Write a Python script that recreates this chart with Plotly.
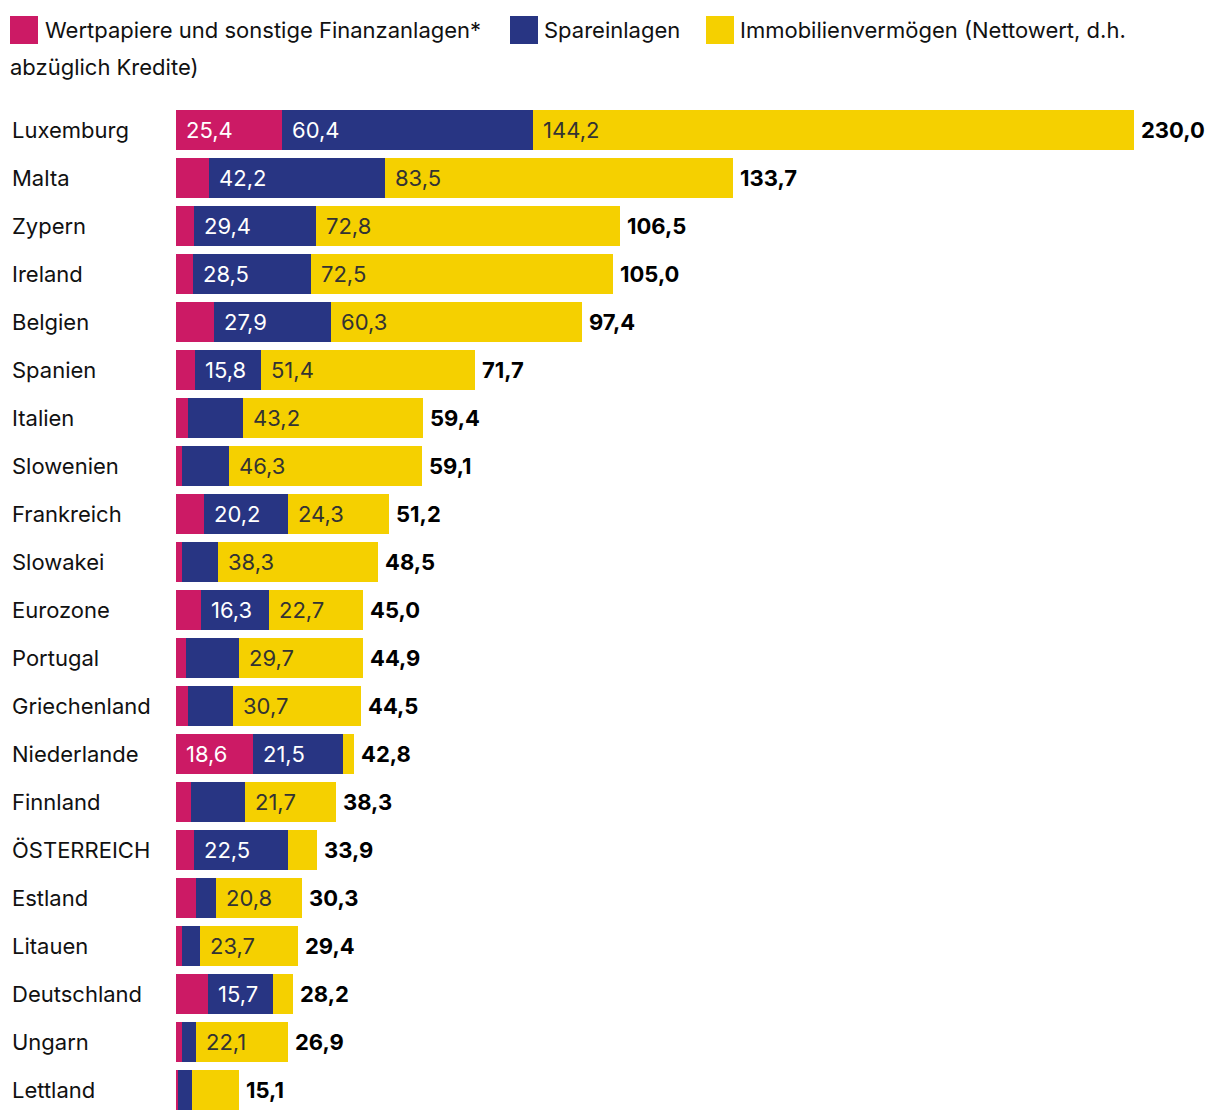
import plotly.graph_objects as go

countries = ["Luxemburg", "Malta", "Zypern", "Ireland", "Belgien", "Spanien", "Italien",
             "Slowenien", "Frankreich", "Slowakei", "Eurozone", "Portugal", "Griechenland",
             "Niederlande", "Finnland", "ÖSTERREICH", "Estland", "Litauen", "Deutschland",
             "Ungarn", "Lettland"]
securities = [25.4, 8.0, 4.3, 4.0, 9.2, 4.5, 2.9, 1.4, 6.7, 1.5, 6.0, 2.3, 2.9, 18.6, 3.7,
              4.3, 4.8, 1.4, 7.7, 1.4, 0.5]
savings = [60.4, 42.2, 29.4, 28.5, 27.9, 15.8, 13.3, 11.4, 20.2, 8.7, 16.3, 12.9, 10.9, 21.5,
           12.9, 22.5, 4.7, 4.3, 15.7, 3.4, 3.3]
realestate = [144.2, 83.5, 72.8, 72.5, 60.3, 51.4, 43.2, 46.3, 24.3, 38.3, 22.7, 29.7, 30.7,
              2.7, 21.7, 7.1, 20.8, 23.7, 4.8, 22.1, 11.3]
totals = [230.0, 133.7, 106.5, 105.0, 97.4, 71.7, 59.4, 59.1, 51.2, 48.5, 45.0, 44.9, 44.5,
          42.8, 38.3, 33.9, 30.3, 29.4, 28.2, 26.9, 15.1]

series_names = ["Wertpapiere und sonstige Finanzanlagen*", "Spareinlagen",
                "Immobilienvermögen (Nettowert, d.h.", "abzüglich Kredite)"]

PINK = "#cc1a65"
NAVY = "#283583"
YELLOW = "#f5d000"
FONT = "Inter"

W, H = 1220, 1120
ML, MR, MT, MB = 176, 0, 106, 6
PW = W - ML - MR
PH = H - MT - MB
XMAX = 230.0 * PW / 958.0


def fmt(v):
    return f"{v:.1f}".replace(".", ",")


def px_x(px):
    return (px - ML) / PW


def px_y(py):
    return 1 - (py - MT) / PH


fig = go.Figure()
series = [(securities, PINK, "white"), (savings, NAVY, "white"), (realestate, YELLOW, "#333333")]
for vals, col, _ in series:
    fig.add_trace(go.Bar(y=countries, x=vals, orientation="h", marker=dict(color=col, line=dict(width=0)),
                         showlegend=False, hoverinfo="x+y"))

annotations = []
for i, c in enumerate(countries):
    base = 0.0
    for vals, col, tcol in series:
        v = vals[i]
        if v >= 15:
            annotations.append(dict(x=base, y=c, xref="x", yref="y", text=fmt(v), showarrow=False,
                                    xanchor="left", yanchor="middle", xshift=8,
                                    font=dict(family=FONT, size=22, color=tcol)))
        base += v
    annotations.append(dict(x=totals[i], y=c, xref="x", yref="y", text=f"<b>{fmt(totals[i])}</b>",
                            showarrow=False, xanchor="left", yanchor="middle", xshift=5,
                            font=dict(family=FONT, size=22, color="#000000", weight=900)))
    annotations.append(dict(x=px_x(10), y=c, xref="paper", yref="y", text=c, showarrow=False,
                            xanchor="left", yanchor="middle",
                            font=dict(family=FONT, size=22, color="#111111")))

legend_items = [(10, PINK, 43, series_names[0]), (510, NAVY, 542, series_names[1]),
                (706, YELLOW, 738, series_names[2])]
shapes = []
for sx, col, tx, name in legend_items:
    shapes.append(dict(type="rect", xref="paper", yref="paper", x0=px_x(sx), x1=px_x(sx + 28),
                       y0=px_y(44), y1=px_y(16), fillcolor=col, line=dict(width=0)))
    annotations.append(dict(x=px_x(tx), y=px_y(30), xref="paper", yref="paper", text=name,
                            showarrow=False, xanchor="left", yanchor="middle",
                            font=dict(family=FONT, size=22, color="#111111")))
annotations.append(dict(x=px_x(8), y=px_y(67), xref="paper", yref="paper", text=series_names[3],
                        showarrow=False, xanchor="left", yanchor="middle",
                        font=dict(family=FONT, size=22, color="#111111")))

fig.update_layout(
    width=W, height=H, barmode="stack", bargap=8 / 48,
    margin=dict(l=ML, r=MR, t=MT, b=MB, pad=0),
    paper_bgcolor="white", plot_bgcolor="white",
    xaxis=dict(range=[0, XMAX], visible=False, fixedrange=True),
    yaxis=dict(autorange="reversed", showticklabels=False, showgrid=False, zeroline=False,
               showline=False, ticks="", fixedrange=True),
    annotations=annotations, shapes=shapes,
    font=dict(family=FONT, size=22, color="#111111"),
    showlegend=False,
)

fig.write_html("out.html", post_script="document.body.style.margin='0';",
               config={"displayModeBar": False})
